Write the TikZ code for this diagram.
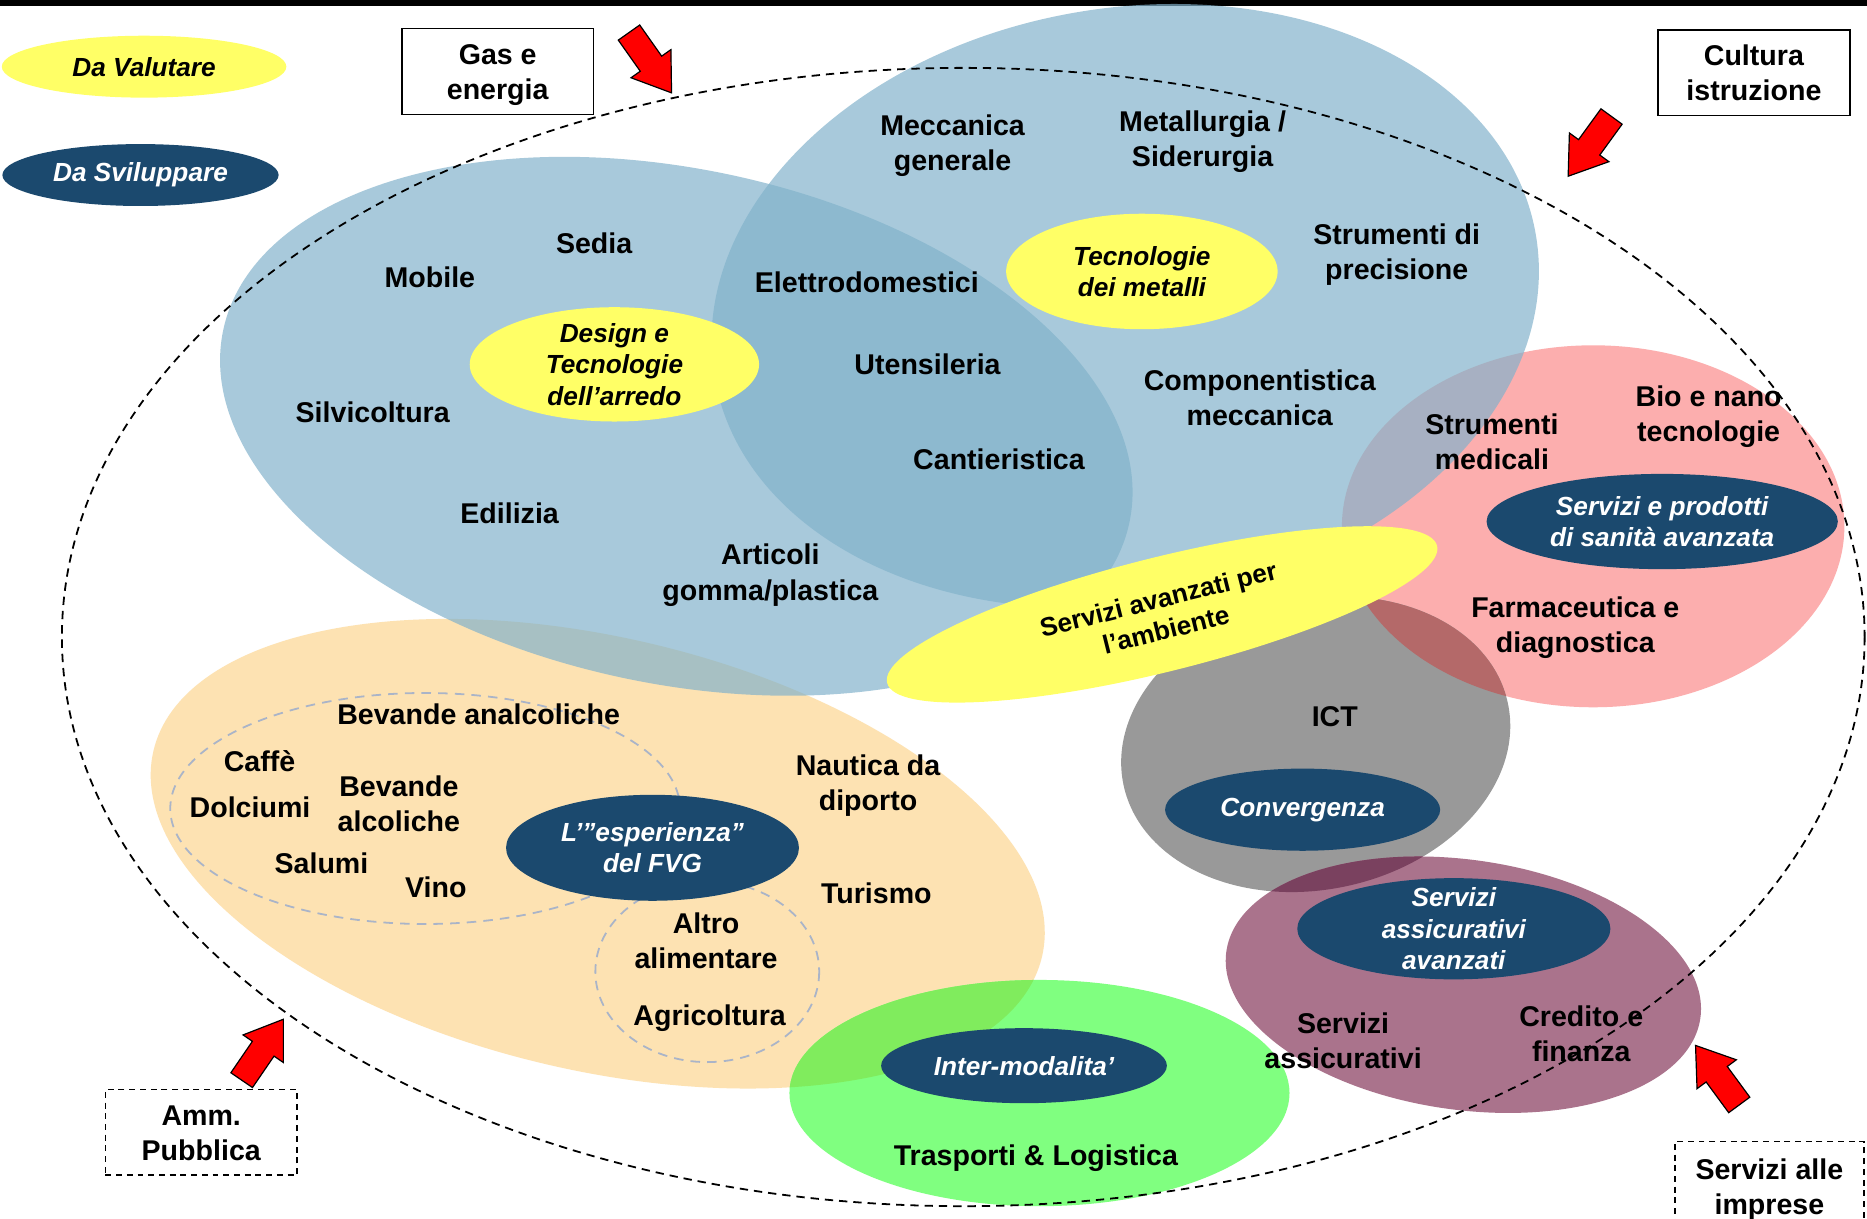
\documentclass[tikz,border=0pt]{standalone}
\usepackage{fontspec}
\setmainfont{Liberation Sans}
\usepackage{xcolor}
\usetikzlibrary{shapes.geometric}

\definecolor{bluebub}{RGB}{129,178,203}
\definecolor{orangebub}{RGB}{253,226,178}
\definecolor{pinkbub}{RGB}{252,174,174}
\definecolor{greybub}{RGB}{153,153,153}
\definecolor{pinkgrey}{RGB}{180,105,105}
\definecolor{purplebub}{RGB}{170,115,140}
\definecolor{purplegrey}{RGB}{122,65,95}
\definecolor{greenbub}{RGB}{128,255,128}
\definecolor{greenorange}{RGB}{128,236,93}
\definecolor{yellowbub}{RGB}{255,255,102}
\definecolor{devblue}{RGB}{27,73,110}
\definecolor{dashgrey}{RGB}{170,180,200}

\tikzset{
  lbl/.style={font=\fontsize{24}{29.5}\selectfont\bfseries, align=center, inner sep=0pt},
  inlbl/.style={font=\fontsize{22}{26.5}\selectfont\bfseries\itshape, align=center},
  valbub/.style={ellipse, fill=yellowbub, inlbl, inner sep=-20pt},
  devbub/.style={ellipse, fill=devblue, inlbl, text=white, inner sep=-20pt},
  sectorbox/.style={lbl, draw, line width=1.3pt, fill=white, minimum width=161pt, minimum height=72pt,
    text height=47pt, text depth=0pt},
  redarrow/.pic={
    \draw[line width=1pt, fill=red, line join=miter]
      (0,0) -- (-30,20.5) -- (-30,11) -- (-62,11) -- (-62,-11) -- (-30,-11) -- (-30,-20.5) -- cycle;
  }
}

\begin{document}
\begin{tikzpicture}[x=1pt,y=-1pt]
  \clip (0,0) rectangle (1568,1023);
  \fill[white] (0,0) rectangle (1568,1023);
  \fill[black] (0,0) rectangle (1568,5);

  % sector bubbles
  \fill[orangebub, rotate around={-13:(502,717)}] (502,717) ellipse [x radius=383, y radius=182];
  \fill[pinkbub] (1338,442) ellipse [x radius=211, y radius=152];
  \fill[greybub, rotate around={12:(1105,625)}] (1105,625) ellipse [x radius=165, y radius=122];
  \begin{scope}
    \clip[rotate around={12:(1105,625)}] (1105,625) ellipse [x radius=165, y radius=122];
    \fill[pinkgrey] (1338,442) ellipse [x radius=211, y radius=152];
  \end{scope}
  \fill[purplebub, rotate around={-8:(1229,827)}] (1229,827) ellipse [x radius=201, y radius=105];
  \begin{scope}
    \clip[rotate around={12:(1105,625)}] (1105,625) ellipse [x radius=165, y radius=122];
    \fill[purplegrey, rotate around={-8:(1229,827)}] (1229,827) ellipse [x radius=201, y radius=105];
  \end{scope}
  \fill[greenbub] (873,918) ellipse [x radius=210, y radius=95];
  \begin{scope}
    \clip[rotate around={-13:(502,717)}] (502,717) ellipse [x radius=383, y radius=182];
    \fill[greenorange] (873,918) ellipse [x radius=210, y radius=95];
  \end{scope}
  \fill[bluebub, fill opacity=0.69, rotate around={-12:(568,358)}] (568,358) ellipse [x radius=389, y radius=216];
  \fill[bluebub, fill opacity=0.69, rotate around={10:(945,257)}] (945,257) ellipse [x radius=350, y radius=250];

  % food groups
  \draw[dashgrey, line width=1.5pt, dash pattern=on 8pt off 6pt] (357,679) ellipse [x radius=214, y radius=97];
  \draw[dashgrey, line width=1.5pt, dash pattern=on 8pt off 6pt] (594,816) ellipse [x radius=94, y radius=76];

  % outer border of the system
  \draw[line width=1.5pt, dash pattern=on 7pt off 5pt] (809,535) ellipse [x radius=757, y radius=478];

  % key ellipses
  \node[valbub, font=\fontsize{22}{26.5}\selectfont\bfseries, minimum width=476pt, minimum height=96pt, rotate=14] (ambiente) at (976,516) {Servizi avanzati per\\l’ambiente};
  \node[valbub, minimum width=243pt, minimum height=96pt] (design) at (516,306) {Design e\\Tecnologie\\dell’arredo};
  \node[valbub, minimum width=228pt, minimum height=97pt] (metalli) at (959,228) {Tecnologie\\dei metalli};
  \node[devbub, minimum width=295pt, minimum height=80pt] (sanita) at (1396,438) {Servizi e prodotti\\di sanità avanzata};
  \node[devbub, minimum width=231pt, minimum height=69pt] (conv) at (1094,680) {Convergenza};
  \node[devbub, minimum width=263pt, minimum height=85pt] (assic) at (1221,780) {Servizi\\assicurativi\\avanzati};
  \node[devbub, minimum width=246pt, minimum height=89pt] (fvg) at (548,712) {L’”esperienza”\\del FVG};
  \node[devbub, minimum width=240pt, minimum height=63pt] (inter) at (860,895) {Inter-modalita’};

  % sector labels
  \node[lbl] (sedia) at (499,204) {Sedia};
  \node[lbl] (mobile) at (361,233) {Mobile};
  \node[lbl] (silvi) at (313,346) {Silvicoltura};
  \node[lbl] (edil) at (428,431) {Edilizia};
  \node[lbl] (artic) at (647,483) {Articoli\\gomma/plastica};
  \node[lbl] (elettro) at (728,237) {Elettrodomestici};
  \node[lbl] (utens) at (779,306) {Utensileria};
  \node[lbl] (cantier) at (839,386) {Cantieristica};
  \node[lbl] (meccgen) at (800,122) {Meccanica\\generale};
  \node[lbl] (metall) at (1010,119) {Metallurgia /\\Siderurgia};
  \node[lbl] (strprec) at (1173,214) {Strumenti di\\precisione};
  \node[lbl] (compon) at (1058,334) {Componentistica\\meccanica};
  \node[lbl] (strmed) at (1253,371) {Strumenti\\medicali};
  \node[lbl] (bionano) at (1435,350) {Bio e nano\\tecnologie};
  \node[lbl] (farma) at (1323,527) {Farmaceutica e\\diagnostica};
  \node[lbl] (ict) at (1121,602) {ICT};
  \node[lbl] (servass) at (1128,874) {Servizi\\assicurativi};
  \node[lbl] (credito) at (1328,868) {Credito e\\finanza};
  \node[lbl] (trasp) at (870,973) {Trasporti \& Logistica};
  \node[lbl] (nautica) at (729,660) {Nautica da\\diporto};
  \node[lbl] (turismo) at (736,750) {Turismo};
  \node[lbl] (altro) at (593,790) {Altro\\alimentare};
  \node[lbl] (agric) at (596,855) {Agricoltura};
  \node[lbl] (bevanal) at (402,600) {Bevande analcoliche};
  \node[lbl] (caffe) at (218,639) {Caffè};
  \node[lbl] (dolc) at (210,678) {Dolciumi};
  \node[lbl] (bevalc) at (335,675) {Bevande\\alcoliche};
  \node[lbl] (salumi) at (270,725) {Salumi};
  \node[lbl] (vino) at (366,745) {Vino};

  % legend
  \node[valbub, minimum width=239pt, minimum height=52pt] (val) at (121,56) {Da Valutare};
  \node[devbub, minimum width=232pt, minimum height=52pt] (svil) at (118,147) {Da Sviluppare};

  % outside sectors
  \node[sectorbox] (gas) at (418,60) {Gas e\\energia};
  \node[sectorbox] (cultura) at (1473,61) {Cultura\\istruzione};
  \node[sectorbox, dash pattern=on 5pt off 4pt] (amm) at (169,951) {Amm.\\Pubblica};
  \node[sectorbox, dash pattern=on 5pt off 4pt, minimum width=159pt, minimum height=76pt, anchor=north] (imprese) at (1486,958) {Servizi alle\\imprese};

  \pic[rotate=-54.8] at (564,78) {redarrow};
  \pic[rotate=-126] at (1317,148) {redarrow};
  \pic[rotate=55.6] at (238,856) {redarrow};
  \pic[rotate=126.3] at (1424,878) {redarrow};
\end{tikzpicture}
\end{document}
